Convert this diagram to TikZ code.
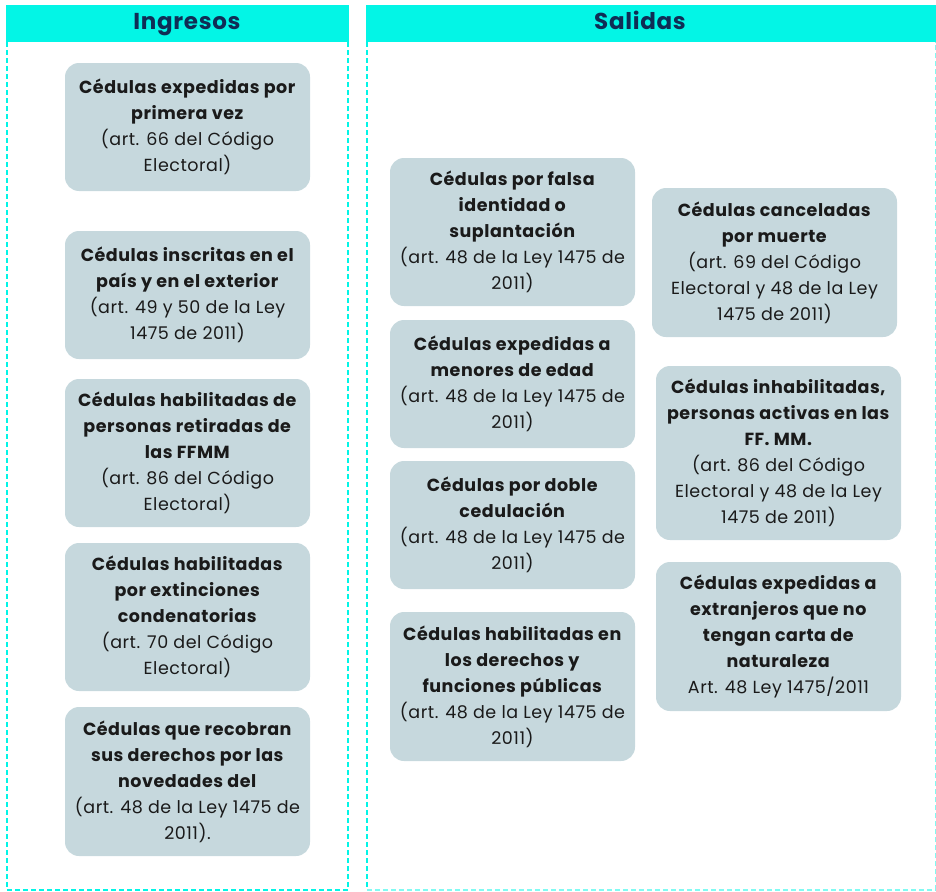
\documentclass[tikz,border=0pt]{standalone}
\usepackage{fontspec}
\setmainfont{Poppins}[LetterSpace=3]
\definecolor{hdr}{HTML}{03F5E6}
\definecolor{navy}{HTML}{0F2D55}
\definecolor{boxc}{HTML}{C6D8DD}
\definecolor{txt}{HTML}{1A1A1A}
\begin{document}
\begin{tikzpicture}[x=1pt,y=-1pt,
  card/.style={fill=boxc, rounded corners=14pt, minimum width=245pt, align=center, text=txt, font=\fontsize{17.5}{26}\selectfont, inner sep=0pt},
  hdrbox/.style={fill=hdr, minimum height=37pt, inner sep=0pt},
  hdrtext/.style={inner sep=0pt, anchor=base, text=navy, font=\fontsize{23}{26}\selectfont\bfseries},
  border/.style={draw=hdr, line width=1.5pt, dash pattern=on 5pt off 3pt},
  lightborder/.style={draw=hdr!50, line width=1.2pt, dash pattern=on 5pt off 3pt}]
\useasboundingbox (0,0) rectangle (936,891);
% headers
\node[hdrbox, minimum width=343pt] (h1) at (177.5,23.5) {};
\node[hdrbox, minimum width=570pt] (h2) at (651,23.5) {};
\node[hdrtext] (t1) at (187,29.5) {Ingresos};
\node[hdrtext] (t2) at (640,29.5) {Salidas};
% borders
\draw[border] ([xshift=1pt]h1.south west) -- ([xshift=1pt]h1.south west |- 0,890) -- ([xshift=-1pt]h1.south east |- 0,890) -- ([xshift=-1pt]h1.south east);
\draw[border] ([xshift=1pt]h2.south west) -- ([xshift=1pt]h2.south west |- 0,890);
\draw[lightborder] ([xshift=1pt]h2.south west |- 0,890) -- ([xshift=-1pt]h2.south east |- 0,890) -- ([xshift=-1pt]h2.south east);
% Ingresos
\node[card, minimum height=128pt] (i1) at (187.5,127) {\textbf{Cédulas expedidas por}\\\textbf{primera vez}\\(art. 66 del Código\\Electoral)};
\node[card, minimum height=128pt] (i2) at (187.5,295) {\textbf{Cédulas inscritas en el}\\\textbf{país y en el exterior}\\(art. 49 y 50 de la Ley\\1475 de 2011)};
\node[card, minimum height=148pt] (i3) at (187.5,453) {\textbf{Cédulas habilitadas de}\\\textbf{personas retiradas de}\\\textbf{las FFMM}\\(art. 86 del Código\\Electoral)};
\node[card, minimum height=148pt] (i4) at (187.5,617) {\textbf{Cédulas habilitadas}\\\textbf{por extinciones}\\\textbf{condenatorias}\\(art. 70 del Código\\Electoral)};
\node[card, minimum height=149pt] (i5) at (187.5,781.5) {\textbf{Cédulas que recobran}\\\textbf{sus derechos por las}\\\textbf{novedades del}\\(art. 48 de la Ley 1475 de\\2011).};
% Salidas A
\node[card, minimum height=148pt] (a1) at (512.5,232) {\textbf{Cédulas por falsa}\\\textbf{identidad o}\\\textbf{suplantación}\\(art. 48 de la Ley 1475 de\\2011)};
\node[card, minimum height=128pt] (a2) at (512.5,384) {\textbf{Cédulas expedidas a}\\\textbf{menores de edad}\\(art. 48 de la Ley 1475 de\\2011)};
\node[card, minimum height=128pt] (a3) at (512.5,525) {\textbf{Cédulas por doble}\\\textbf{cedulación}\\(art. 48 de la Ley 1475 de\\2011)};
\node[card, minimum height=149pt] (a4) at (512.5,686.5) {\textbf{Cédulas habilitadas en}\\\textbf{los derechos y}\\\textbf{funciones públicas}\\(art. 48 de la Ley 1475 de\\2011)};
% Salidas B
\node[card, minimum height=149pt] (b1) at (774.5,262.5) {\textbf{Cédulas canceladas}\\\textbf{por muerte}\\(art. 69 del Código\\Electoral y 48 de la Ley\\1475 de 2011)};
\node[card, minimum height=174pt] (b2) at (778.5,453) {\textbf{Cédulas inhabilitadas,}\\\textbf{personas activas en las}\\\textbf{FF. MM.}\\(art. 86 del Código\\Electoral y 48 de la Ley\\1475 de 2011)};
\node[card, minimum height=149pt] (b3) at (778.5,636.5) {\textbf{Cédulas expedidas a}\\\textbf{extranjeros que no}\\\textbf{tengan carta de}\\\textbf{naturaleza}\\Art. 48 Ley 1475/2011};
\end{tikzpicture}
\end{document}
